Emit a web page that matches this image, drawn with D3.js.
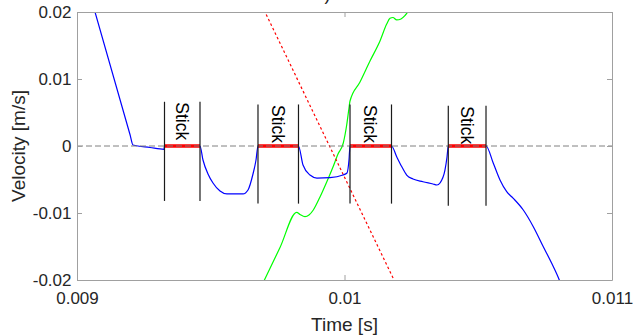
<!DOCTYPE html>
<html>
<head>
<meta charset="utf-8">
<script src="https://cdn.jsdelivr.net/npm/d3@7"></script>
<style>
  body { margin: 0; background: #fff; }
  svg { display: block; font-family: "Liberation Sans", Arial, sans-serif; }
</style>
</head>
<body>
<svg></svg>
<script>
// 数据：蓝色速度曲线 (时间 s, 速度 m/s)
const blueT = [
  0.009, 0.0091981, 0.0092093, 0.0092729, 0.0093252, 0.0093271, 0.0094598,
  0.009471, 0.0094897, 0.0095084, 0.0095346, 0.0095607, 0.0096206, 0.0096393,
  0.0096579, 0.0096692, 0.0096766, 0.009828, 0.0098449, 0.009871, 0.0098972,
  0.0099458, 0.0099944, 0.0100093, 0.0100168, 0.0100206, 0.0101757, 0.0101951,
  0.0102138, 0.0102325, 0.0102561, 0.0102935, 0.0103308, 0.0103458, 0.010357,
  0.0103757, 0.0103832, 0.010388, 0.010529, 0.0105563, 0.0105813, 0.0106064,
  0.010631, 0.0106684, 0.0107058, 0.0107432, 0.0107746, 0.010803, 0.0108168,
];
const blueV = [
  0.0294, 0.00172, 0.00015, -0.00022, -0.00049, 0, 0, -0.00209, -0.00418,
  -0.00552, -0.00672, -0.00716, -0.00716, -0.00657, -0.00418, -0.00209, 0, 0,
  -0.00284, -0.00433, -0.00478, -0.00473, -0.00433, -0.00403, -0.00209, 0, 0,
  -0.0016, -0.00307, -0.00433, -0.00493, -0.00533, -0.00567, -0.00582,
  -0.00552, -0.00358, -0.00164, 0, 0, -0.00258, -0.00507, -0.00682, -0.00781,
  -0.00955, -0.01204, -0.01503, -0.01751, -0.02, -0.02149,
];

// 绿色曲线
const greenT = [
  0.0096916, 0.0097589, 0.0098213, 0.0098336, 0.0098523, 0.0098673, 0.0098834,
  0.0099084, 0.0099335, 0.009957, 0.0099757, 0.0099955, 0.0100082, 0.0100168,
  0.0100206, 0.0100579, 0.0100953, 0.0101327, 0.0101577, 0.0101701, 0.0101813,
  0.0101951, 0.0102112, 0.0102262, 0.0102449, 0.0102598,
];
const greenV = [
  -0.02075, -0.01515, -0.0099, -0.01022, -0.01055, -0.0103, -0.00955, -0.00761,
  -0.00537, -0.00313, -0.00119, 0.00045, 0.00313, 0.00567, 0.00672, 0.00955,
  0.01269, 0.01567, 0.01821, 0.01906, 0.01918, 0.01881, 0.01896, 0.01948,
  0.02045, 0.02119,
];

// 红色虚线
const redT = [0.0096425, 0.0102453];
const redV = [0.025, -0.025];

// Stick 区间
const stickStart = [0.0093271, 0.0096766, 0.0100206, 0.010388];
const stickEnd = [0.0094598, 0.009828, 0.0101757, 0.010529];
const stickTop = [0.0066, 0.0062, 0.0062, 0.006];
const stickBottom = [-0.0082, -0.0086, -0.0086, -0.0089];
const stickLabel = "Stick";

// 刻度
const xTicks = [0.009, 0.01, 0.011];
const xTickLabels = ["0.009", "0.01", "0.011"];
const yTicks = [-0.02, -0.01, 0, 0.01, 0.02];
const yTickLabels = ["-0.02", "-0.01", "0", "0.01", "0.02"];

const margin = { top: 12, right: 21, bottom: 56, left: 77 };
const width = 633 - margin.left - margin.right;
const height = 336 - margin.top - margin.bottom;

const x = d3.scaleLinear().domain([0.009, 0.011]).range([0, width]);
const y = d3.scaleLinear().domain([-0.02, 0.02]).range([height, 0]);

const svg = d3.select("svg").attr("width", 633).attr("height", 336);

// 顶部被裁掉的标题（原图只露出一点）
svg
  .append("text")
  .attr("x", 327.5)
  .attr("y", 0)
  .attr("text-anchor", "middle")
  .attr("fill", "#262626")
  .style("font-size", "18px")
  .text(")");

const g = svg
  .append("g")
  .attr("transform", `translate(${margin.left},${margin.top})`);

g.append("clipPath")
  .attr("id", "clip")
  .append("rect")
  .attr("width", width)
  .attr("height", height);

const plot = g.append("g").attr("clip-path", "url(#clip)");

const lineGen = (ts) =>
  d3
    .line()
    .x((d, i) => x(ts[i]))
    .y((d) => y(d))
    .curve(d3.curveMonotoneX);

plot
  .append("path")
  .datum(greenV)
  .attr("d", lineGen(greenT))
  .attr("fill", "none")
  .attr("stroke", "#00ff00")
  .attr("stroke-width", 1.2);

plot
  .append("path")
  .datum(redV)
  .attr("d", lineGen(redT).curve(d3.curveLinear))
  .attr("fill", "none")
  .attr("stroke", "#ff0000")
  .attr("stroke-width", 1.2)
  .style("stroke-dasharray", "2.5 2.5");

plot
  .append("path")
  .datum(blueV)
  .attr("d", lineGen(blueT))
  .attr("fill", "none")
  .attr("stroke", "#0000ff")
  .attr("stroke-width", 1.2);

// Stick 红色粗线
plot
  .selectAll(".stick-bar")
  .data(stickStart)
  .join("line")
  .attr("class", "stick-bar")
  .attr("x1", (d) => x(d))
  .attr("x2", (d, i) => x(stickEnd[i]))
  .attr("y1", y(0))
  .attr("y2", y(0))
  .attr("stroke", "#ff0000")
  .attr("stroke-width", 3.5);

// 零线
plot
  .append("line")
  .attr("x1", 0)
  .attr("x2", width)
  .attr("y1", y(0))
  .attr("y2", y(0))
  .attr("stroke", "#808080")
  .attr("stroke-width", 1)
  .style("stroke-dasharray", "6 3");

// Stick 边界竖线
const stickEdges = stickStart.flatMap((d, i) => [
  { t: d, i },
  { t: stickEnd[i], i },
]);
plot
  .selectAll(".stick-edge")
  .data(stickEdges)
  .join("line")
  .attr("class", "stick-edge")
  .attr("x1", (d) => x(d.t))
  .attr("x2", (d) => x(d.t))
  .attr("y1", (d) => y(stickTop[d.i]))
  .attr("y2", (d) => y(stickBottom[d.i]))
  .attr("stroke", "#1a1a1a")
  .attr("stroke-width", 1.2);

// Stick 文字
plot
  .selectAll(".stick-text")
  .data(stickStart)
  .join("text")
  .attr("class", "stick-text")
  .attr(
    "transform",
    (d, i) =>
      `translate(${(x(d) + x(stickEnd[i])) / 2},${y(stickTop[i]) + 0.5}) rotate(90)`
  )
  .attr("dy", "0.36em")
  .attr("fill", "#000")
  .style("font-size", "17.5px")
  .text(stickLabel);

// 坐标轴
const axisColor = "#a0a0a0";
const styleAxis = (sel) => {
  sel.attr("font-family", null).attr("font-size", null);
  sel.select(".domain").attr("stroke", axisColor);
  sel.selectAll(".tick line").attr("stroke", axisColor);
  sel.selectAll("text").attr("fill", "#262626").style("font-size", "17px");
};

g.append("g")
  .attr("transform", `translate(0,${height})`)
  .call(
    d3
      .axisBottom(x)
      .tickValues(xTicks)
      .tickSizeInner(-5)
      .tickSizeOuter(0)
      .tickFormat((d, i) => xTickLabels[i])
  )
  .call(styleAxis)
  .call((a) => a.selectAll("text").attr("y", 23.5).attr("dy", null));

g.append("g")
  .call(
    d3
      .axisTop(x)
      .tickValues(xTicks)
      .tickSizeInner(-5)
      .tickSizeOuter(0)
      .tickFormat("")
  )
  .call(styleAxis);

g.append("g")
  .call(
    d3
      .axisLeft(y)
      .tickValues(yTicks)
      .tickSizeInner(-5)
      .tickSizeOuter(0)
      .tickPadding(5.5)
      .tickFormat((d, i) => yTickLabels[i])
  )
  .call(styleAxis);

g.append("g")
  .attr("transform", `translate(${width},0)`)
  .call(
    d3
      .axisRight(y)
      .tickValues(yTicks)
      .tickSizeInner(-5)
      .tickSizeOuter(0)
      .tickFormat("")
  )
  .call(styleAxis);

// 轴标题
g.append("text")
  .attr("x", width / 2)
  .attr("y", 318.7)
  .attr("text-anchor", "middle")
  .attr("fill", "#262626")
  .style("font-size", "19px")
  .text("Time [s]");

g.append("text")
  .attr("transform", `translate(-52,${height / 2}) rotate(-90)`)
  .attr("text-anchor", "middle")
  .attr("fill", "#262626")
  .style("font-size", "19px")
  .text("Velocity [m/s]");
</script>
</body>
</html>
